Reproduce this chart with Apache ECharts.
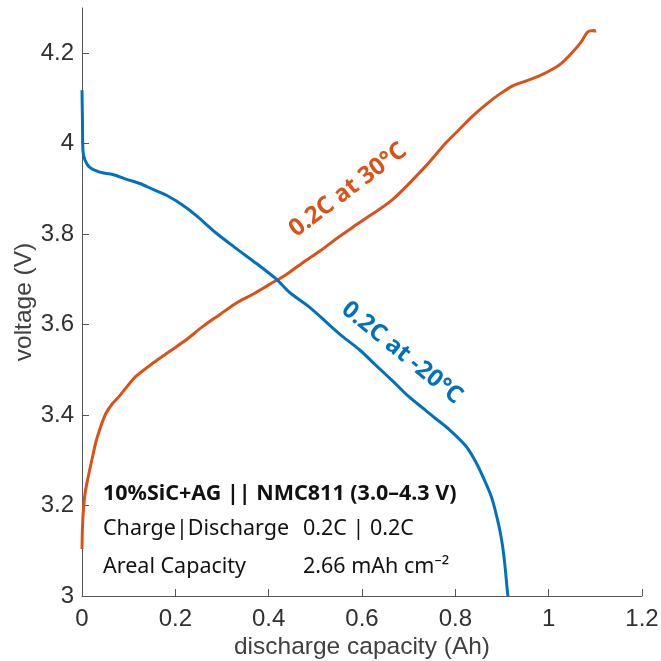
<!DOCTYPE html>
<html>
<head>
<meta charset="utf-8">
<script src="https://cdn.jsdelivr.net/npm/echarts@6/dist/echarts.min.js"></script>
<style>
html,body{margin:0;padding:0;background:#fff;}
#chart{width:661px;height:661px;}
</style>
</head>
<body>
<div id="chart"></div>
<script>
// 0.2C at 30°C (orange)
var cap30 = [0, 0.001, 0.003, 0.007, 0.013, 0.022, 0.031, 0.042, 0.052, 0.065, 0.081, 0.098, 0.116, 0.152, 0.188, 0.224, 0.259, 0.295, 0.331, 0.366, 0.402, 0.438, 0.473, 0.509, 0.545, 0.594, 0.666, 0.737, 0.780, 0.809, 0.837, 0.866, 0.894, 0.923, 0.952, 0.980, 1.009, 1.030, 1.051, 1.069, 1.084, 1.098, 1.099];
var volt30 = [3.104, 3.15, 3.19, 3.23, 3.262, 3.305, 3.345, 3.38, 3.405, 3.425, 3.443, 3.465, 3.486, 3.515, 3.541, 3.567, 3.596, 3.622, 3.648, 3.667, 3.689, 3.711, 3.737, 3.762, 3.79, 3.825, 3.877, 3.951, 4.002, 4.032, 4.061, 4.087, 4.109, 4.128, 4.139, 4.150, 4.165, 4.180, 4.202, 4.224, 4.247, 4.250, 4.246];
// 0.2C at -20°C (blue)
var capM20 = [0, 0.001, 0.002, 0.006, 0.016, 0.038, 0.066, 0.096, 0.124, 0.152, 0.181, 0.216, 0.245, 0.288, 0.331, 0.374, 0.417, 0.445, 0.488, 0.524, 0.558, 0.594, 0.630, 0.666, 0.701, 0.737, 0.752, 0.787, 0.823, 0.845, 0.862, 0.877, 0.887, 0.898, 0.905, 0.912, 0.913];
var voltM20 = [4.118, 4.05, 3.985, 3.965, 3.948, 3.937, 3.932, 3.921, 3.912, 3.899, 3.886, 3.864, 3.841, 3.802, 3.768, 3.735, 3.700, 3.671, 3.638, 3.605, 3.574, 3.545, 3.510, 3.475, 3.440, 3.410, 3.397, 3.368, 3.331, 3.294, 3.257, 3.220, 3.183, 3.131, 3.080, 3.006, 3.0];
var xTicks = [0, 0.2, 0.4, 0.6, 0.8, 1, 1.2];
var yTicks = [3, 3.2, 3.4, 3.6, 3.8, 4, 4.2];
var seriesNames = ['0.2C at 30°C', '0.2C at -20°C'];
var infoTitle = '10%SiC+AG || NMC811 (3.0–4.3 V)';
var infoKeys = ['Charge|Discharge', 'Areal Capacity'];
var infoVals = ['0.2C | 0.2C', '2.66 mAh cm⁻²'];

function pairs(xs, ys) { return xs.map(function (x, i) { return [x, ys[i]]; }); }

var BLUE = '#0072BD', ORANGE = '#D95319';
var axisFont = '"Liberation Sans", Arial, sans-serif';
var noteFont = '"Noto Sans", sans-serif';

var chart = echarts.init(document.getElementById('chart'), null, {renderer: 'canvas'});
var option = {
  animation: false,
  backgroundColor: '#fff',
  grid: {left: 82, right: 19, top: 8, bottom: 65, outerBoundsMode: 'none', containLabel: false},
  xAxis: {
    type: 'value', min: 0, max: 1.2, interval: 0.2,
    name: 'discharge capacity (Ah)', nameLocation: 'middle', nameGap: 39, nameMoveOverlap: false,
    nameTextStyle: {fontFamily: axisFont, fontSize: 24.5, color: '#404040'},
    axisLine: {show: true, lineStyle: {color: '#555', width: 1}},
    axisTick: {show: true, inside: true, length: 7, customValues: xTicks, lineStyle: {color: '#555'}},
    axisLabel: {customValues: xTicks, fontFamily: axisFont, fontSize: 24, color: '#303030', margin: 11},
    splitLine: {show: false}
  },
  yAxis: {
    type: 'value', min: 3, max: 4.3, interval: 0.1,
    name: 'voltage (V)', nameLocation: 'middle', nameGap: 45, nameMoveOverlap: false,
    nameTextStyle: {fontFamily: axisFont, fontSize: 24.5, color: '#404040'},
    axisLine: {show: true, lineStyle: {color: '#555', width: 1}},
    axisTick: {show: true, inside: true, length: 7, customValues: yTicks, lineStyle: {color: '#555'}},
    axisLabel: {customValues: yTicks, fontFamily: axisFont, fontSize: 24, color: '#303030', margin: 8},
    splitLine: {show: false}
  },
  series: [
    {name: seriesNames[0], type: 'line', data: pairs(cap30, volt30), showSymbol: false,
     smooth: 0.3,
     lineStyle: {color: ORANGE, width: 3}, itemStyle: {color: ORANGE}},
    {name: seriesNames[1], type: 'line', data: pairs(capM20, voltM20), showSymbol: false,
     smooth: 0.3,
     lineStyle: {color: BLUE, width: 3}, itemStyle: {color: BLUE}}
  ],
  graphic: [
    {type: 'text', x: 348, y: 190, rotation: 37 * Math.PI / 180,
     style: {text: seriesNames[0], fill: ORANGE, font: 'bold 24px ' + noteFont, align: 'center', verticalAlign: 'middle'}},
    {type: 'text', x: 402, y: 353, rotation: -39 * Math.PI / 180,
     style: {text: seriesNames[1], fill: BLUE, font: 'bold 24px ' + noteFont, align: 'center', verticalAlign: 'middle'}},
    {type: 'text', x: 103, y: 494,
     style: {text: infoTitle, fill: '#111', font: 'bold 21.5px ' + noteFont, align: 'left', verticalAlign: 'middle'}},
    {type: 'text', x: 103, y: 529,
     style: {text: infoKeys[0], fill: '#111', font: '21.5px ' + noteFont, align: 'left', verticalAlign: 'middle'}},
    {type: 'text', x: 303, y: 529,
     style: {text: infoVals[0], fill: '#111', font: '21.5px ' + noteFont, align: 'left', verticalAlign: 'middle'}},
    {type: 'text', x: 103, y: 567,
     style: {text: infoKeys[1], fill: '#111', font: '21.5px ' + noteFont, align: 'left', verticalAlign: 'middle'}},
    {type: 'text', x: 303, y: 567,
     style: {text: infoVals[1], fill: '#111', font: '21.5px ' + noteFont, align: 'left', verticalAlign: 'middle'}}
  ]
};
chart.setOption(option);
</script>
</body>
</html>
